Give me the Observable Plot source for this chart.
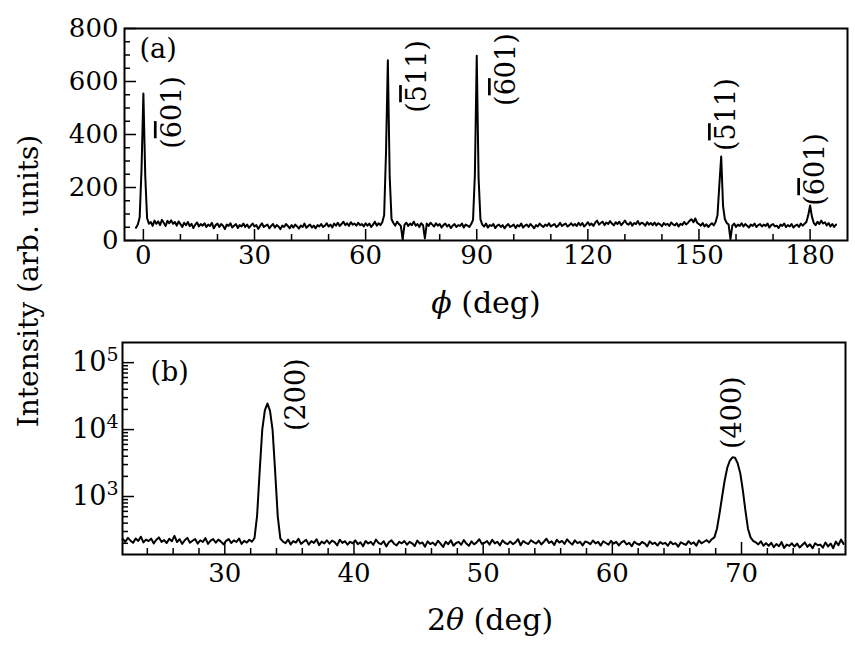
<!DOCTYPE html>
<html>
<head>
<meta charset="utf-8">
<script src="https://cdn.jsdelivr.net/npm/d3@7"></script>
<script src="https://cdn.jsdelivr.net/npm/@observablehq/plot@0.6"></script>
<style>
  body { margin: 0; background: #fff; }
  #wrap { position: relative; width: 855px; height: 646px; background: #fff; }
  #wrap svg { display: block; }
  #ylab { position: absolute; left: 28px; top: 281px; transform: translate(-50%, -50%) rotate(-90deg);
          white-space: nowrap; font-family: "DejaVu Serif", serif; font-size: 28px; color: #000; }
</style>
</head>
<body>
<div id="wrap"><div id="ylab">Intensity (arb. units)</div></div>
<script>
// ---------- Panel (a): phi scan, sampled every 0.5 deg starting at -2 deg ----------
const phiStart = -2, phiStep = 0.5;
const phiIntensity = [
  48, 60, 88, 270, 555, 245, 84, 63, 70, 55, 75, 63, 72, 58, 78, 67, 55, 74, 65, 76,
  63, 70, 56, 72, 62, 51, 67, 58, 70, 54, 63, 47, 60, 68, 53, 62, 56, 65, 51, 60,
  55, 67, 46, 58, 64, 51, 62, 56, 43, 60, 55, 65, 49, 56, 62, 47, 58, 53, 64, 51,
  60, 48, 56, 64, 53, 58, 44, 55, 65, 51, 56, 60, 46, 55, 62, 49, 58, 53, 43, 56,
  51, 62, 55, 46, 58, 49, 60, 53, 45, 56, 51, 64, 48, 55, 60, 49, 56, 46, 58, 53,
  62, 51, 56, 65, 53, 60, 49, 64, 56, 67, 55, 62, 71, 58, 65, 55, 69, 60, 64, 56,
  67, 58, 62, 53, 65, 56, 64, 51, 60, 71, 56, 65, 58, 69, 95, 330, 680, 240, 80, 66,
  56, 71, 62, 55, 5, 60, 67, 55, 64, 58, 71, 56, 62, 51, 65, 58, 8, 64, 55, 67,
  60, 53, 65, 56, 62, 49, 58, 64, 53, 60, 47, 56, 62, 51, 58, 55, 64, 49, 60, 56,
  51, 62, 78, 250, 697, 235, 80, 60, 53, 64, 49, 58, 55, 62, 47, 56, 60, 51, 58, 46,
  56, 62, 51, 55, 60, 47, 58, 53, 64, 49, 56, 60, 51, 62, 55, 46, 58, 53, 64, 56,
  51, 60, 55, 65, 53, 58, 62, 51, 56, 67, 55, 60, 64, 53, 58, 65, 56, 62, 55, 67,
  57, 66, 53, 60, 69, 58, 64, 55, 68, 75, 60, 66, 71, 58, 68, 62, 73, 64, 57, 69,
  62, 71, 58, 66, 75, 64, 60, 69, 56, 66, 62, 73, 60, 67, 64, 56, 69, 60, 66, 58,
  68, 57, 65, 61, 54, 66, 59, 63, 55, 68, 61, 57, 65, 53, 63, 59, 70, 61, 66, 75,
  80, 69, 83, 67, 62, 56, 66, 53, 61, 51, 59, 65, 57, 70, 95, 210, 317, 130, 80, 66,
  60, 5, 56, 64, 51, 60, 55, 65, 53, 62, 56, 49, 60, 55, 64, 51, 58, 62, 53, 60,
  55, 64, 49, 58, 62, 53, 56, 47, 60, 55, 64, 51, 58, 53, 62, 49, 56, 60, 51, 64,
  56, 63, 70, 95, 132, 90, 66, 58, 71, 62, 75, 64, 69, 57, 66, 53, 62, 51, 60
];
const phiMajorTicks = [0, 30, 60, 90, 120, 150, 180];
const phiMinorTicks = [10, 20, 40, 50, 70, 80, 100, 110, 130, 140, 160, 170];
const intAMajorTicks = [0, 200, 400, 600, 800];
const intAMinorTicks = [50, 100, 150, 250, 300, 350, 450, 500, 550, 650, 700, 750];
const peakLabelsA = [
  { phi: 7.8,   I: 483, label: "(6\u030501)" },
  { phi: 74.0,  I: 619, label: "(5\u030511)" },
  { phi: 98.0,  I: 645, label: "(6\u030501)" },
  { phi: 157.4, I: 475, label: "(5\u030511)" },
  { phi: 181.5, I: 268, label: "(6\u030501)" }
];

// ---------- Panel (b): 2theta scan, sampled every 0.2 deg starting at 22.1 deg ----------
const tthStart = 22.1, tthStep = 0.2;
const tthIntensity = [
  232, 211, 241, 219, 203, 236, 217, 251, 206, 227,
  216, 235, 199, 226, 245, 210, 223, 202, 234, 215,
  258, 209, 230, 196, 222, 241, 204, 218, 231, 198,
  222, 209, 239, 196, 219, 231, 204, 227, 212, 193,
  217, 231, 202, 221, 209, 236, 196, 218, 205, 226,
  211, 240, 520, 2400, 10000, 19300, 24500, 19000, 9800, 2300,
  500, 235, 213, 200, 228, 192, 216, 205, 234, 196,
  211, 225, 191, 215, 203, 230, 188, 212, 199, 222,
  197, 219, 208, 186, 226, 203, 215, 191, 211, 200,
  221, 194, 207, 181, 216, 199, 210, 189, 227, 202,
  194, 215, 180, 207, 221, 197, 186, 210, 200, 216,
  190, 210, 200, 182, 219, 197, 206, 178, 214, 195,
  205, 187, 218, 198, 176, 211, 194, 222, 184, 202,
  210, 190, 223, 198, 183, 214, 193, 206, 230, 196,
  203, 216, 191, 226, 199, 211, 186, 221, 202, 194,
  213, 194, 206, 230, 187, 216, 203, 195, 222, 208,
  198, 219, 192, 211, 234, 202, 214, 189, 226, 205,
  217, 196, 229, 207, 191, 221, 201, 210, 186, 213,
  206, 194, 220, 199, 210, 185, 214, 202, 191, 217,
  198, 210, 186, 206, 218, 192, 203, 181, 211, 197,
  190, 209, 200, 180, 214, 195, 204, 185, 208, 196,
  203, 184, 211, 194, 200, 178, 207, 197, 189, 215,
  195, 207, 184, 220, 200, 211, 223, 206, 230, 245,
  330, 560, 1000, 1750, 2700, 3450, 3850, 3800, 3150, 2250,
  1250, 620, 330, 245, 218, 207, 192, 214, 184, 201,
  184, 203, 175, 195, 181, 208, 170, 191, 183, 200,
  179, 198, 173, 189, 206, 177, 193, 169, 200, 187,
  191, 172, 206, 180, 198, 169, 212, 187, 227, 196
];
const tthMajorTicks = [30, 40, 50, 60, 70];
const tthMinorTicks = [24, 26, 28, 32, 34, 36, 38, 42, 44, 46, 48, 52, 54, 56, 58, 62, 64, 66, 68, 72, 74, 76];
const intBMajorTicks = [1e3, 1e4, 1e5];
const intBMajorLabels = ["10\u00B3", "10\u2074", "10\u2075"];
const intBMinorTicks = [200, 300, 400, 500, 600, 700, 800, 900,
  2000, 3000, 4000, 5000, 6000, 7000, 8000, 9000,
  20000, 30000, 40000, 50000, 60000, 70000, 80000, 90000];
const peakLabelsB = [
  { tth: 35.56, I: 33200, label: "(200)" },
  { tth: 69.3,  I: 17900, label: "(400)" }
];

const phiData = phiIntensity.map((I, i) => ({ phi: phiStart + i * phiStep, I }));
const tthData = tthIntensity.map((I, i) => ({ tth: +(tthStart + i * tthStep).toFixed(2), I }));

const font = "'DejaVu Serif', serif";
const baseStyle = { fontFamily: font, fontSize: "26px", color: "black", background: "white", overflow: "visible" };

// Panel (a)
const hA = 325, mTA = 28, mBA = 85, mLA = 124, mRA = 8;
const phA = hA - mTA - mBA, pwA = 855 - mLA - mRA;
const plotA = Plot.plot({
  width: 855, height: hA,
  marginLeft: mLA, marginRight: mRA, marginTop: mTA, marginBottom: mBA,
  style: baseStyle,
  x: { domain: [-5.1, 190.1], label: null },
  y: { domain: [0, 800], label: null },
  marks: [
    Plot.tickX(phiMinorTicks, { x: d => d, insetTop: phA - 6, stroke: "black", strokeWidth: 1.5 }),
    Plot.tickX(phiMajorTicks, { x: d => d, insetTop: phA - 11, stroke: "black", strokeWidth: 1.5 }),
    Plot.tickY(intAMinorTicks, { y: d => d, insetRight: pwA - 6, stroke: "black", strokeWidth: 1.5 }),
    Plot.tickY(intAMajorTicks, { y: d => d, insetRight: pwA - 12, stroke: "black", strokeWidth: 1.5 }),
    Plot.line(phiData, { x: "phi", y: "I", stroke: "black", strokeWidth: 2 }),
    Plot.frame({ stroke: "black", strokeWidth: 2 }),
    Plot.axisX({ ticks: phiMajorTicks, tickSize: 0, tickPadding: 5, label: null, fontSize: 26 }),
    Plot.axisY({ ticks: intAMajorTicks, tickSize: 0, tickPadding: 6, label: null, fontSize: 26 }),
    Plot.text(peakLabelsA, { x: "phi", y: "I", text: "label", rotate: -90, fontSize: 27,
      textAnchor: "middle", lineAnchor: "middle", fill: "black" }),
    Plot.text(["(a)"], { frameAnchor: "top-left", dx: 15, dy: 21, textAnchor: "start", lineAnchor: "middle", fontSize: 27 }),
    Plot.text(["\u03D5 (deg)"], { frameAnchor: "bottom", dy: 63, lineAnchor: "middle", fontSize: 30 })
  ]
});

// Panel (b)
const hB = 321, mTB = 17, mBB = 92, mLB = 122, mRB = 10;
const phB = hB - mTB - mBB, pwB = 855 - mLB - mRB;
const plotB = Plot.plot({
  width: 855, height: hB,
  marginLeft: mLB, marginRight: mRB, marginTop: mTB, marginBottom: mBB,
  style: baseStyle,
  x: { domain: [22.08, 78.05], label: null },
  y: { type: "log", domain: [136, 2e5], label: null },
  marks: [
    Plot.tickX(tthMinorTicks, { x: d => d, insetTop: phB - 6, stroke: "black", strokeWidth: 1.5 }),
    Plot.tickX(tthMajorTicks, { x: d => d, insetTop: phB - 12, stroke: "black", strokeWidth: 1.5 }),
    Plot.tickY(intBMinorTicks, { y: d => d, insetRight: pwB - 6, stroke: "black", strokeWidth: 1.5 }),
    Plot.tickY(intBMajorTicks, { y: d => d, insetRight: pwB - 12, stroke: "black", strokeWidth: 1.5 }),
    Plot.line(tthData, { x: "tth", y: "I", stroke: "black", strokeWidth: 2 }),
    Plot.frame({ stroke: "black", strokeWidth: 2 }),
    Plot.axisX({ ticks: tthMajorTicks, tickSize: 0, tickPadding: 9, label: null, fontSize: 26 }),
    Plot.axisY({ ticks: intBMajorTicks, tickSize: 0, tickPadding: 4, label: null, fontSize: 27,
      tickFormat: d => intBMajorLabels[intBMajorTicks.indexOf(d)] }),
    Plot.text(peakLabelsB, { x: "tth", y: "I", text: "label", rotate: -90, fontSize: 27,
      textAnchor: "middle", lineAnchor: "middle", fill: "black" }),
    Plot.text(["(b)"], { frameAnchor: "top-left", dx: 28, dy: 30, textAnchor: "start", lineAnchor: "middle", fontSize: 27 }),
    Plot.text(["2\u03B8 (deg)"], { frameAnchor: "bottom", dx: 6, dy: 66, lineAnchor: "middle", fontSize: 30 })
  ]
});

// italic Greek letters in axis titles
function rebuild(svg, full, parts) {
  d3.select(svg).selectAll("text").filter(function () { return this.textContent === full; })
    .each(function () {
      const t = d3.select(this);
      t.text(null);
      parts.forEach(p => {
        const s = t.append("tspan").text(p.s);
        if (p.italic) s.attr("font-style", "italic");
        if (p.over) s.style("text-decoration", "overline");
        if (p.sup) s.attr("font-size", p.sup).attr("dy", "-0.55em");
      });
    });
}
rebuild(plotA, "\u03D5 (deg)", [{ s: "\u03D5", italic: true }, { s: " (deg)" }]);
rebuild(plotB, "2\u03B8 (deg)", [{ s: "2" }, { s: "\u03B8", italic: true }, { s: " (deg)" }]);
// overbars on Miller indices
for (const lab of peakLabelsA) {
  const [pre, rest] = lab.label.split("\u0305");
  rebuild(plotA, lab.label, [{ s: pre.slice(0, -1) }, { s: pre.slice(-1), over: true }, { s: rest }]);
}
// superscript exponents for log tick labels
const supMap = { "\u00B3": "3", "\u2074": "4", "\u2075": "5" };
for (const lab of intBMajorLabels) {
  rebuild(plotB, lab, [{ s: "10" }, { s: supMap[lab.slice(-1)], sup: 19 }]);
}

const wrap = document.getElementById("wrap");
wrap.appendChild(plotA);
wrap.appendChild(plotB);
</script>
</body>
</html>
